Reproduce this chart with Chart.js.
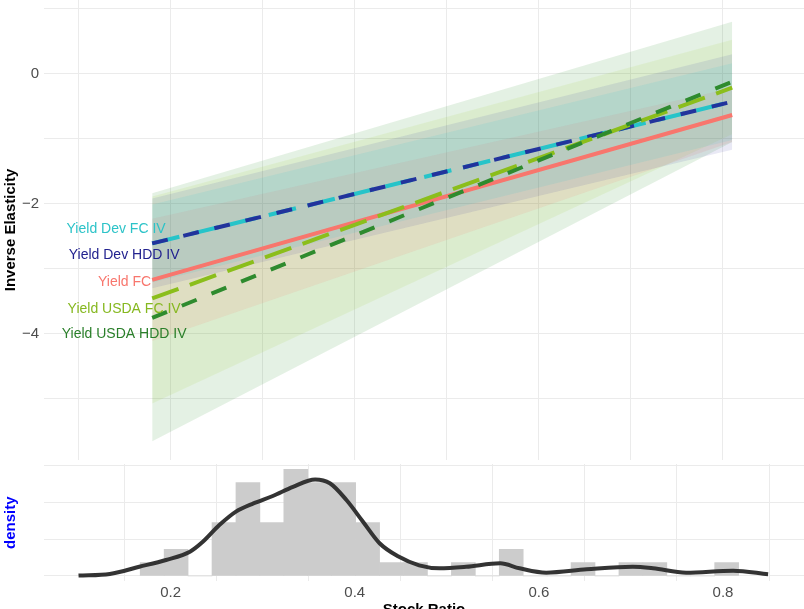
<!DOCTYPE html>
<html>
<head>
<meta charset="utf-8">
<script src="https://cdn.jsdelivr.net/npm/chart.js@4.4.0/dist/chart.umd.min.js"></script>
<style>
  body { margin: 0; background: #ffffff; overflow: hidden; }
  #topChart { position: absolute; left: 0; top: 0; }
  #bottomChart { position: absolute; left: 0; top: 460px; }
</style>
</head>
<body>
<canvas id="topChart" width="804" height="460"></canvas>
<canvas id="bottomChart" width="804" height="160"></canvas>

<script>
// ---- data ----
const xEnds = [0.18, 0.81];

const seriesNames = ['Yield Dev FC IV', 'Yield Dev HDD IV', 'Yield FC', 'Yield USDA FC IV', 'Yield USDA HDD IV'];

const devFcFit   = [-2.61, -0.43];
const devFcLow   = [-3.21, -1.02];
const devFcHigh  = [-2.01, 0.16];

const devHddFit  = [-2.61, -0.43];
const devHddLow  = [-3.30, -1.17];
const devHddHigh = [-1.92, 0.30];

const fcFit      = [-3.17, -0.636];
const fcLow      = [-4.11, -1.05];
const fcHigh     = [-2.23, -0.22];

const usdaFcFit  = [-3.456, -0.215];
const usdaFcLow  = [-5.07, -0.93];
const usdaFcHigh = [-1.89, 0.52];

const usdaHddFit  = [-3.754, -0.123];
const usdaHddLow  = [-5.65, -1.05];
const usdaHddHigh = [-1.84, 0.80];

// where the series names sit (data units)
const labelX = [0.1408, 0.1495, 0.150, 0.1495, 0.1495];
const labelY = [-2.385, -2.785, -3.20, -3.615, -4.00];

const topYTicks = [1, 0, -1, -2, -3, -4, -5];
const xTicks = [0.1, 0.2, 0.3, 0.4, 0.5, 0.6, 0.7, 0.8];
const bottomYTicks = [0, 2, 4, 6];

// histogram of stock ratio
const binWidth = 0.026;
const binCenters = [0.180, 0.206, 0.232, 0.258, 0.284, 0.310, 0.336, 0.362, 0.388, 0.414,
                    0.440, 0.466, 0.492, 0.518, 0.544, 0.570, 0.596, 0.622, 0.648, 0.674,
                    0.700, 0.726, 0.752, 0.778, 0.804];
const binCounts  = [1, 2, 0, 4, 7, 4, 8, 7, 7, 4,
                    1, 1, 0, 1, 0, 2, 0, 0, 1, 0,
                    1, 1, 0, 0, 1];

// kernel density curve
const densityX = [0.100, 0.134, 0.166, 0.195, 0.221, 0.235, 0.253, 0.271, 0.290, 0.311,
                  0.333, 0.357, 0.373, 0.391, 0.409, 0.427, 0.447, 0.470, 0.492, 0.521,
                  0.558, 0.579, 0.608, 0.652, 0.702, 0.724, 0.760, 0.811, 0.849];
const densityY = [0.02, 0.11, 0.50, 0.87, 1.32, 1.86, 2.77, 3.50, 3.95, 4.35,
                  4.85, 5.25, 5.04, 4.13, 2.95, 1.78, 1.07, 0.58, 0.42, 0.50,
                  0.69, 0.42, 0.18, 0.36, 0.50, 0.42, 0.18, 0.29, 0.09];

// ---- styles ----
const lineColors = ['#26C4C9', '#22339C', '#F8766D', '#8BBE1B', '#2E8B2E'];
const textColors = ['#2CC3C8', '#22228F', '#F8766D', '#86B820', '#2A7F2A'];
const bandColors = ['rgba(38,198,202,0.12)', 'rgba(40,40,160,0.10)', 'rgba(248,118,109,0.12)',
                    'rgba(154,205,50,0.12)', 'rgba(34,139,34,0.12)'];
const lineDashes = [[28, 12], [16, 16], [], [28, 12], [16, 16]];
const gridColor = '#EBEBEB';
const tickColor = '#4D4D4D';

Chart.defaults.font.family = "'Liberation Sans', Arial, sans-serif";

function pts(ys) {
  return xEnds.map((x, i) => ({ x: x, y: ys[i] }));
}

// pin the axis boxes so the plot area sits exactly where the reference has it
function fixWidth(w) {
  return s => { s.width = w; s.paddingTop = 0; s.paddingBottom = 0; };
}
function fixHeight(h) {
  return s => { s.height = h; s.paddingLeft = 0; s.paddingRight = 0; };
}

const fits  = [devFcFit, devHddFit, fcFit, usdaFcFit, usdaHddFit];
const lows  = [devFcLow, devHddLow, fcLow, usdaFcLow, usdaHddLow];
const highs = [devFcHigh, devHddHigh, fcHigh, usdaFcHigh, usdaHddHigh];

const topDatasets = [];
// ribbons first (upper fills down to the lower that follows it)
for (let i = 0; i < 5; i++) {
  topDatasets.push({
    data: pts(highs[i]), borderWidth: 0, pointRadius: 0,
    backgroundColor: bandColors[i], fill: '+1', order: 10
  });
  topDatasets.push({
    data: pts(lows[i]), borderWidth: 0, pointRadius: 0, fill: false, order: 10
  });
}
// fitted lines, later series drawn on top
for (let i = 0; i < 5; i++) {
  topDatasets.push({
    label: seriesNames[i],
    data: pts(fits[i]),
    borderColor: lineColors[i],
    borderWidth: 4,
    borderDash: lineDashes[i],
    borderCapStyle: 'butt',
    pointRadius: 0,
    fill: false,
    order: 5 - i
  });
}

const seriesLabels = {
  id: 'seriesLabels',
  afterDatasetsDraw(chart) {
    const ctx = chart.ctx;
    const x = chart.scales.x, y = chart.scales.y;
    ctx.save();
    ctx.font = "14px 'Liberation Sans', Arial, sans-serif";
    ctx.textAlign = 'center';
    ctx.textBaseline = 'middle';
    seriesNames.forEach((name, i) => {
      ctx.fillStyle = textColors[i];
      ctx.fillText(name, x.getPixelForValue(labelX[i]), y.getPixelForValue(labelY[i]));
    });
    ctx.restore();
  }
};

new Chart(document.getElementById('topChart'), {
  type: 'line',
  data: { datasets: topDatasets },
  plugins: [seriesLabels],
  options: {
    responsive: false,
    animation: false,
    layout: { padding: 0 },
    plugins: { legend: { display: false }, tooltip: { enabled: false } },
    scales: {
      x: {
        type: 'linear', min: 0.0625, max: 0.888,
        afterBuildTicks: s => { s.ticks = xTicks.map(v => ({ value: v })); },
        afterFit: fixHeight(0),
        ticks: { display: false },
        grid: { color: gridColor, lineWidth: 1, drawTicks: false },
        border: { display: false }
      },
      y: {
        min: -5.94, max: 1.133,
        afterBuildTicks: s => { s.ticks = topYTicks.map(v => ({ value: v })); },
        afterFit: fixWidth(44),
        ticks: {
          color: tickColor, padding: 5, font: { size: 15 },
          callback: v => v % 2 === 0 ? (v < 0 ? '\u2212' + Math.abs(v) : String(v)) : ''
        },
        grid: { color: gridColor, lineWidth: 1, drawTicks: false },
        border: { display: false },
        title: {
          display: true, text: 'Inverse Elasticity', color: '#000000',
          font: { size: 15, weight: 'bold' }, padding: { top: 2, bottom: 0 }
        }
      }
    }
  }
});

const binTotal = binCounts.reduce((a, b) => a + b, 0);
const binDensity = binCounts.map(c => c / (binTotal * binWidth));

new Chart(document.getElementById('bottomChart'), {
  type: 'bar',
  data: {
    datasets: [
      {
        type: 'line',
        data: densityX.map((x, i) => ({ x: x, y: densityY[i] })),
        borderColor: '#333333', borderWidth: 4, pointRadius: 0,
        cubicInterpolationMode: 'monotone', fill: false, order: 0
      },
      {
        type: 'bar',
        data: binCenters.map((x, i) => ({ x: x, y: binDensity[i] })),
        backgroundColor: '#CCCCCC', borderWidth: 0,
        barPercentage: 1.0, categoryPercentage: 1.0, order: 1
      }
    ]
  },
  options: {
    responsive: false,
    animation: false,
    layout: { padding: { top: 4, left: 0, right: 0, bottom: 0 } },
    plugins: { legend: { display: false }, tooltip: { enabled: false } },
    scales: {
      x: {
        type: 'linear', min: 0.0625, max: 0.888, offset: false,
        afterBuildTicks: s => { s.ticks = xTicks.map(v => ({ value: v })); },
        afterFit: fixHeight(38.7),
        ticks: {
          color: tickColor, padding: 3, font: { size: 15 }, maxRotation: 0, autoSkip: false,
          callback: v => Math.round(v * 10) % 2 === 0 ? v.toFixed(1) : ''
        },
        grid: { color: gridColor, lineWidth: 1, drawTicks: false },
        border: { display: false },
        title: {
          display: true, text: 'Stock Ratio', color: '#000000',
          font: { size: 15, weight: 'bold' }, padding: { top: 0, bottom: 1 }
        }
      },
      y: {
        min: -0.29, max: 6.09,
        afterBuildTicks: s => { s.ticks = bottomYTicks.map(v => ({ value: v })); },
        afterFit: fixWidth(44),
        ticks: { display: false },
        grid: { color: gridColor, lineWidth: 1, drawTicks: false },
        border: { display: false },
        title: {
          display: true, text: 'density', color: '#0000FF',
          font: { size: 15, weight: 'bold' }, padding: { top: 2, bottom: 0 }
        }
      }
    }
  }
});
</script>
</body>
</html>
